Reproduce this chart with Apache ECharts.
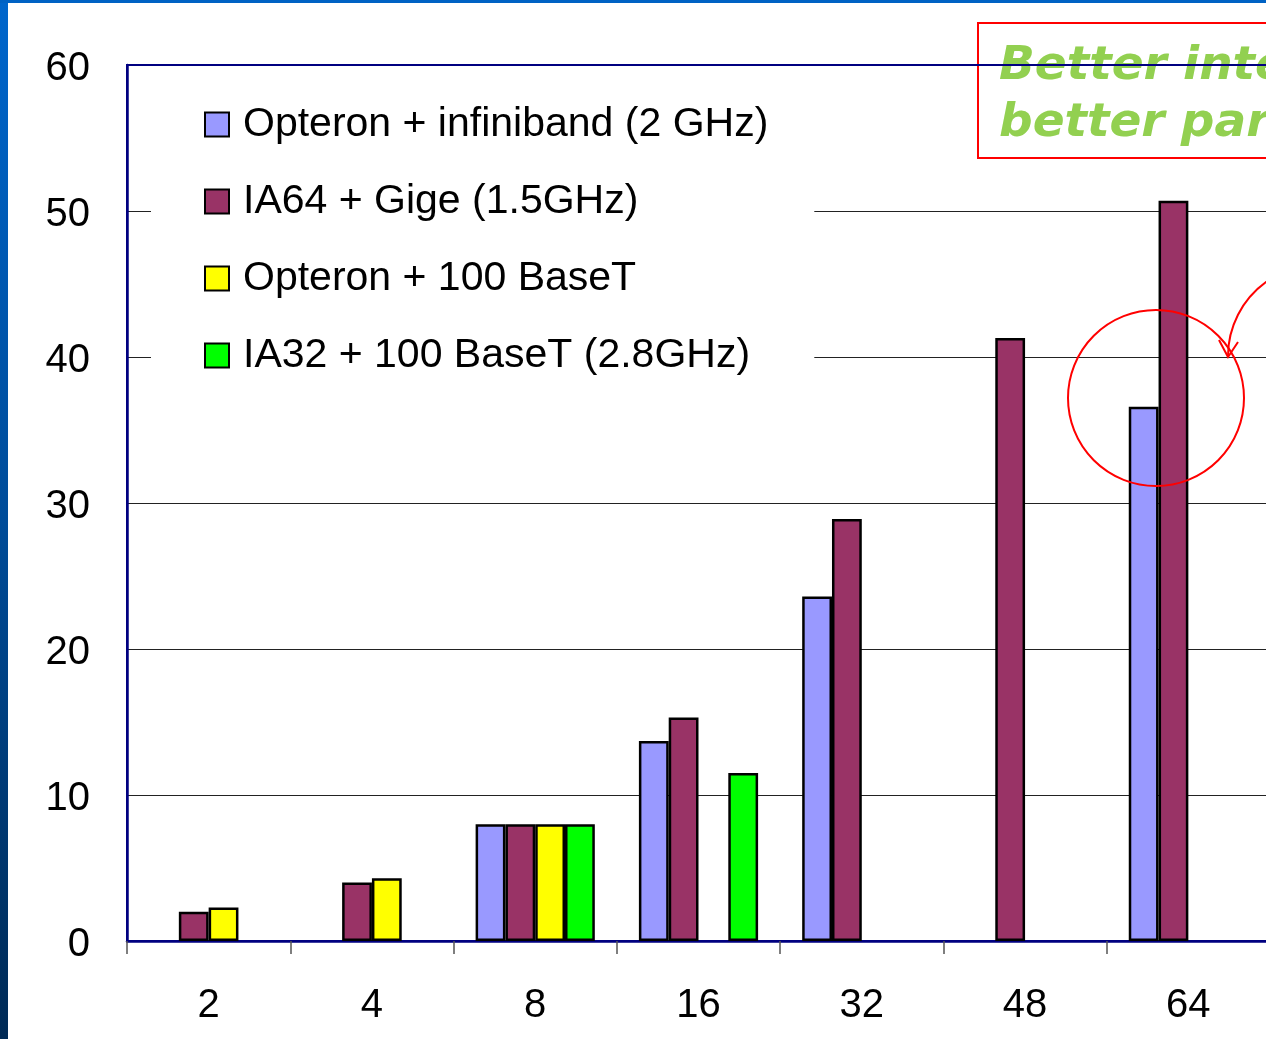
<!DOCTYPE html>
<html>
<head>
<meta charset="utf-8">
<style>
  html, body { margin: 0; padding: 0; background: #ffffff; }
  #chart { width: 1266px; height: 1039px; }
</style>
<script src="https://cdn.jsdelivr.net/npm/echarts@6/dist/echarts.min.js"></script>
</head>
<body>
<div id="chart"></div>
<script>
// Processor counts on the category axis
const categories = ['2', '4', '8', '16', '32', '48', '64'];

// Measured values per cluster configuration (null = not run)
const opteronInfiniband = [null, null, 8, 13.7, 23.6, null, 36.6];
const ia64Gige          = [2, 4, 8, 15.3, 28.9, 41.3, 50.7];
const opteron100BaseT   = [2.3, 4.3, 8, null, null, null, null];
const ia32100BaseT      = [null, null, 8, 11.5, null, null, null];

const seriesNames = [
  'Opteron + infiniband (2 GHz)',
  'IA64 + Gige (1.5GHz)',
  'Opteron + 100 BaseT',
  'IA32 + 100 BaseT (2.8GHz)'
];
const seriesColors = ['#9999FF', '#993366', '#FFFF00', '#00FF00'];
const seriesData = [opteronInfiniband, ia64Gige, opteron100BaseT, ia32100BaseT];

// Value axis ticks
const yMin = 0, yMax = 60, yStep = 10;

const FONT = '"Liberation Sans", Arial, Helvetica, sans-serif';
const NAVY = '#000080';

const chart = echarts.init(document.getElementById('chart'), null, { renderer: 'canvas' });

const option = {
  backgroundColor: '#ffffff',
  animation: false,
  grid: {
    left: 127,
    top: 65,
    width: 1143,
    height: 876,
    show: true,
    borderColor: NAVY,
    borderWidth: 2,
    containLabel: false,
    outerBoundsMode: 'none'
  },
  legend: {
    orient: 'vertical',
    left: 151,
    top: 77,
    padding: [27, 46, 30, 53],
    itemGap: 36,
    itemWidth: 24,
    itemHeight: 24,
    backgroundColor: '#ffffff',
    icon: 'rect',
    data: seriesNames,
    itemStyle: { borderColor: '#000', borderWidth: 2 },
    textStyle: {
      fontFamily: FONT,
      fontSize: 41,
      lineHeight: 41,
      color: '#000',
      padding: [0, 0, 0, 9]
    }
  },
  xAxis: {
    type: 'category',
    data: categories,
    axisLine: { show: true, lineStyle: { color: NAVY, width: 2.5 } },
    axisTick: { show: true, length: 13, lineStyle: { color: '#555', width: 1.5 } },
    axisLabel: { fontFamily: FONT, fontSize: 40, color: '#000', margin: 45 },
    splitLine: { show: false }
  },
  yAxis: {
    type: 'value',
    min: yMin,
    max: yMax,
    interval: yStep,
    axisLine: { show: true, lineStyle: { color: NAVY, width: 2.5 } },
    axisTick: { show: false },
    axisLabel: {
      margin: 37,
      formatter: (v) => '{n|' + v + '}',
      rich: {
        n: { fontFamily: FONT, fontSize: 40, color: '#000', padding: [8, 0, 0, 0] }
      }
    },
    splitLine: {
      show: true,
      showMinLine: false,
      showMaxLine: false,
      lineStyle: { color: '#222', width: 1 }
    }
  },
  series: seriesNames.map((name, i) => ({
    name: name,
    type: 'bar',
    data: seriesData[i],
    barGap: '0%',
    barCategoryGap: '27%',
    itemStyle: { color: seriesColors[i], borderColor: '#000', borderWidth: 2.5 }
  })),
  graphic: [
    // slide frame: blue band on the left edge and top edge
    {
      type: 'rect', z: 50,
      shape: { x: 0, y: 0, width: 8, height: 1039 },
      style: {
        fill: new echarts.graphic.LinearGradient(0, 0, 0, 1, [
          { offset: 0, color: '#0066CC' },
          { offset: 0.5, color: '#004C99' },
          { offset: 1, color: '#002A55' }
        ])
      }
    },
    {
      type: 'rect', z: 50,
      shape: { x: 0, y: 0, width: 1266, height: 3 },
      style: { fill: '#0062C4' }
    },
    // callout box with headline
    {
      type: 'rect', z: -1,
      shape: { x: 978, y: 23, width: 400, height: 135 },
      style: { fill: 'rgba(255,255,255,0)', stroke: '#FF0000', lineWidth: 2 }
    },
    {
      type: 'text', z: -1,
      left: 999, top: 38,
      style: {
        text: 'Better interconnect,\nbetter parallel speedup',
        fontFamily: '"DejaVu Sans", Verdana, sans-serif',
        fontWeight: 'bold',
        fontStyle: 'italic',
        fontSize: 47,
        lineHeight: 57,
        fill: '#92D050'
      }
    },
    // highlight ring around the 64-processor pair and its pointer arrow
    {
      type: 'circle', z: 100,
      shape: { cx: 1156, cy: 398, r: 88 },
      style: { fill: 'rgba(0,0,0,0)', stroke: '#FF0000', lineWidth: 2 }
    },
    {
      type: 'bezierCurve', z: 100,
      shape: { x1: 1272, y1: 278, x2: 1228, y2: 356, cpx1: 1240, cpy1: 298, cpx2: 1228, cpy2: 330 },
      style: { fill: null, stroke: '#FF0000', lineWidth: 2 }
    },
    {
      type: 'polyline', z: 100,
      shape: { points: [[1219, 340], [1228, 357], [1238, 342]] },
      style: { fill: null, stroke: '#FF0000', lineWidth: 2 }
    }
  ]
};

chart.setOption(option);
</script>
</body>
</html>
